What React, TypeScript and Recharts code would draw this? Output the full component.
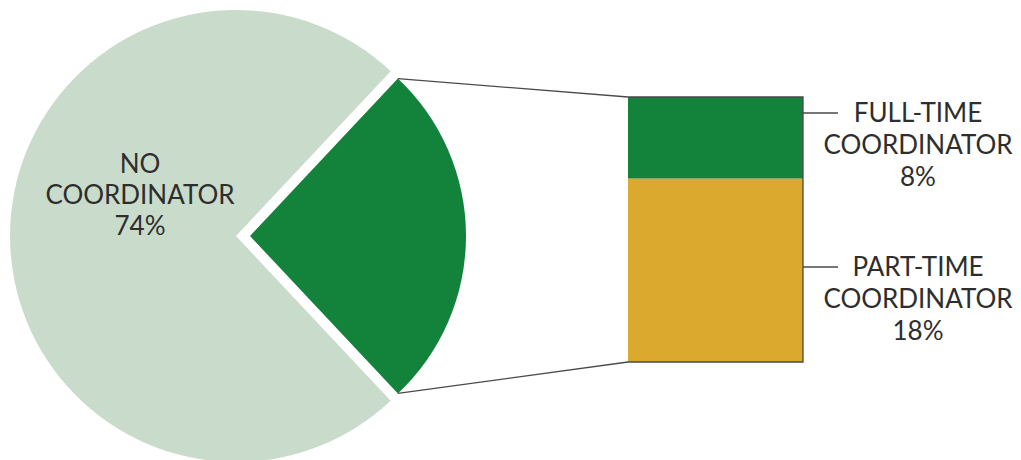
import { PieChart, Pie, Cell, BarChart, Bar, XAxis, YAxis } from 'recharts';

// pie: share of programs with / without a coordinator
const pieCategories = ['Coordinator', 'No coordinator'];
const pieValues = [26, 74];
const pieLabelLines = ['NO', 'COORDINATOR', '74%'];

// bar: breakdown of the coordinator slice
const barCategories = ['Full-time coordinator', 'Part-time coordinator'];
const barValues = [8, 18];
const barLabelLines = [
  ['FULL-TIME', 'COORDINATOR', '8%'],
  ['PART-TIME', 'COORDINATOR', '18%'],
];

const W = 1021;
const H = 460;
const FONT = 'Lato, "Open Sans", sans-serif';
const TEXT = '#2e2e2e';
const LINE = '#4a4a4a';

const LIGHT = '#c9dccb';
const DARK = '#13823a';
const GOLD = '#dba92e';

// layout
const PIE_CX = 236;
const PIE_CY = 236;
const PIE_R = 226;
const EXPLODE = 14;
const SLICE_R = 216;
const BAR_LEFT = 628;
const BAR_TOP = 97;
const BAR_W = 175;
const BAR_H = 265;

const pieData = pieCategories.map((name, i) => ({ name, value: pieValues[i] }));
const pieTotal = pieValues.reduce((a, b) => a + b, 0);
const halfAngle = (pieValues[0] / pieTotal) * 180;

const barRow: Record<string, string | number> = { name: 'Coordinator' };
barCategories.forEach((c, i) => {
  barRow[c] = barValues[i];
});
const barTotal = barValues.reduce((a, b) => a + b, 0);

const RAD = Math.PI / 180;

const PieLabel = (props: any) => {
  const { cx, cy, midAngle, index } = props;
  if (index !== 1) return null;
  const x = cx + 96 * Math.cos(-midAngle * RAD);
  const baselines = [-63, -32, -1];
  return (
    <text x={x} y={cy} textAnchor="middle" fill={TEXT} fontFamily={FONT} fontSize={26}>
      {pieLabelLines.map((t, i) => (
        <tspan key={t} x={x} y={cy + baselines[i]}>
          {t}
        </tspan>
      ))}
    </text>
  );
};

const App = () => {
  const cornerX = PIE_CX + EXPLODE + SLICE_R * Math.cos(halfAngle * RAD);
  const cornerTopY = PIE_CY - SLICE_R * Math.sin(halfAngle * RAD);
  const cornerBotY = PIE_CY + SLICE_R * Math.sin(halfAngle * RAD);
  const barRight = BAR_LEFT + BAR_W;
  const barBottom = BAR_TOP + BAR_H;

  // leader line y for each right-hand label
  const leaderY = [113, 267];
  const labelX = 918;

  return (
    <div style={{ position: 'absolute', left: 0, top: 0, width: W, height: H, background: '#fff' }}>
      <div style={{ position: 'absolute', left: 0, top: 0 }}>
        <PieChart width={W} height={H} margin={{ top: 0, right: 0, bottom: 0, left: 0 }}>
          <Pie
            data={pieData}
            dataKey="value"
            nameKey="name"
            cx={PIE_CX}
            cy={PIE_CY}
            outerRadius={PIE_R}
            startAngle={-halfAngle}
            endAngle={360 - halfAngle}
            stroke="none"
            label={PieLabel}
            labelLine={false}
            isAnimationActive={false}
          >
            <Cell fill="transparent" />
            <Cell fill={LIGHT} />
          </Pie>
          <Pie
            data={pieData}
            dataKey="value"
            nameKey="name"
            cx={PIE_CX + EXPLODE}
            cy={PIE_CY}
            outerRadius={SLICE_R}
            startAngle={-halfAngle}
            endAngle={360 - halfAngle}
            stroke="none"
            isAnimationActive={false}
          >
            <Cell fill={DARK} />
            <Cell fill="transparent" />
          </Pie>
        </PieChart>
      </div>

      <div style={{ position: 'absolute', left: BAR_LEFT, top: BAR_TOP }}>
        <BarChart
          width={BAR_W}
          height={BAR_H}
          data={[barRow]}
          margin={{ top: 0, right: 0, bottom: 0, left: 0 }}
          barCategoryGap={0}
        >
          <XAxis dataKey="name" type="category" hide />
          <YAxis type="number" domain={[0, barTotal]} hide />
          <Bar dataKey={barCategories[1]} stackId="c" fill={GOLD} isAnimationActive={false} />
          <Bar dataKey={barCategories[0]} stackId="c" fill={DARK} isAnimationActive={false} />
        </BarChart>
      </div>

      <svg
        width={W}
        height={H}
        style={{ position: 'absolute', left: 0, top: 0, pointerEvents: 'none' }}
      >
        <polyline
          points={`${cornerX},${cornerTopY} ${BAR_LEFT},${BAR_TOP} ${barRight},${BAR_TOP} ${barRight},${barBottom} ${BAR_LEFT},${barBottom} ${cornerX},${cornerBotY}`}
          fill="none"
          stroke={LINE}
          strokeWidth={1.3}
        />
        {barLabelLines.map((lines, k) => (
          <g key={k}>
            <line x1={barRight} x2={barRight + 35} y1={leaderY[k]} y2={leaderY[k]} stroke={LINE} strokeWidth={1.3} />
            <text textAnchor="middle" fill={TEXT} fontFamily={FONT} fontSize={26}>
              {lines.map((t, i) => (
                <tspan key={i} x={labelX} y={leaderY[k] + 9 + i * 32}>
                  {t}
                </tspan>
              ))}
            </text>
          </g>
        ))}
      </svg>
    </div>
  );
};

export default App;
